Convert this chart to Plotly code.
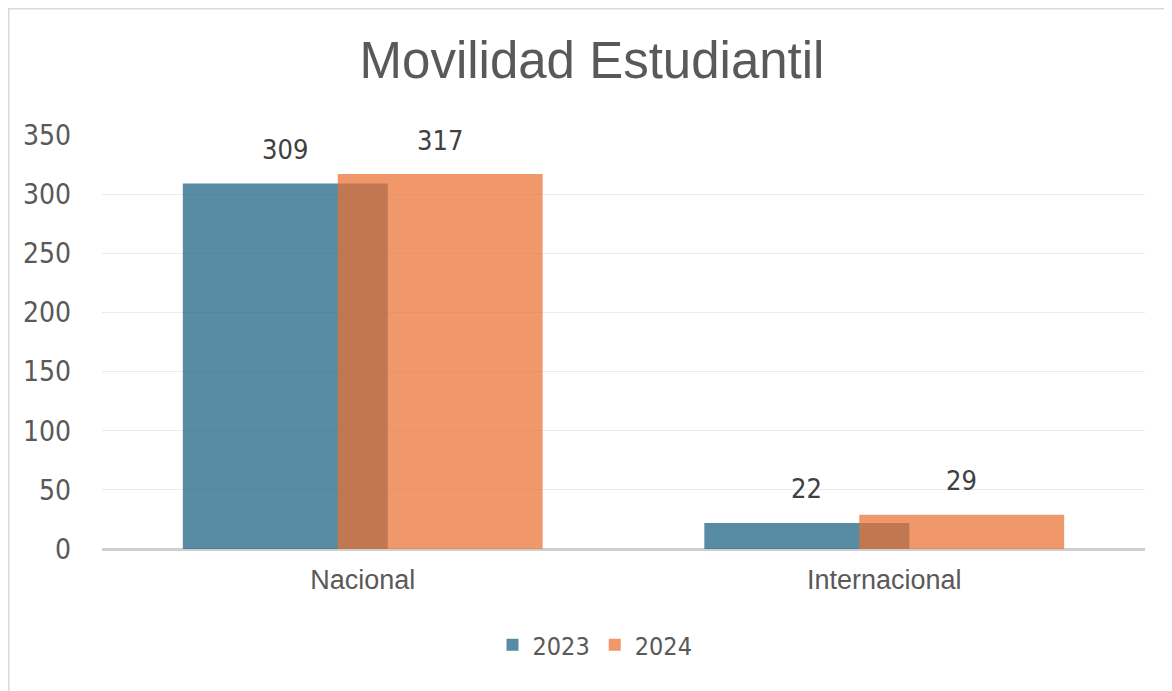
import plotly.graph_objects as go

# ---- data ----
categories = ["Nacional", "Internacional"]
series_names = ["2023", "2024"]
values_2023 = [309, 22]
values_2024 = [317, 29]
y_ticks = [0, 50, 100, 150, 200, 250, 300, 350]

# ---- style ----
# the page body adds an 8px offset, so the figure is 8px smaller than the window
W, H = 1164, 683
ML, MR, MT, MB = 94, 27, 127, 142
PW, PH = W - ML - MR, H - MT - MB
BAR_W = 0.393
OFFSETS = [-0.345, -0.048]
COLORS = ["rgba(24,94,129,0.72)", "rgba(234,112,49,0.72)"]
NARROW = "Liberation Sans Narrow, Arial Narrow, DejaVu Sans Condensed, sans-serif"
REG = "Liberation Sans, Arial, sans-serif"
GREY = "#595959"

fig = go.Figure()
for name, vals, off, col in zip(series_names, [values_2023, values_2024], OFFSETS, COLORS):
    fig.add_trace(go.Bar(
        x=categories, y=vals, name=name,
        width=BAR_W, offset=off,
        marker=dict(color=col, line=dict(width=0)),
        hoverinfo="x+y+name",
    ))

annotations = []
for vals, off in zip([values_2023, values_2024], OFFSETS):
    for i, v in enumerate(vals):
        annotations.append(dict(
            x=i + off + BAR_W / 2, y=v, xref="x", yref="y",
            text=str(v), showarrow=False, yanchor="middle", yshift=34,
            font=dict(family=NARROW, size=27, color="#404040"),
        ))


def px_x(px):
    """figure pixel -> paper x"""
    return (px - ML) / PW


def px_y(py):
    """figure pixel -> paper y"""
    return (MT + PH - py) / PH


fig.update_layout(
    width=W, height=H,
    margin=dict(l=ML, r=MR, t=MT, b=MB),
    paper_bgcolor="white", plot_bgcolor="white",
    barmode="overlay",
    title=dict(text="Movilidad Estudiantil", x=584 / W, xanchor="center",
               y=1 - 52 / H, yanchor="middle", yref="container",
               font=dict(family=REG, size=51, color=GREY)),
    xaxis=dict(type="category", showgrid=False, showline=False, zeroline=False,
               ticks="", tickfont=dict(family=REG, size=27, color=GREY),
               ticklabelstandoff=12, range=[-0.5, 1.5]),
    yaxis=dict(range=[0, 350], tickvals=y_ticks, showgrid=True, gridcolor="#EBEBEB",
               gridwidth=1, zeroline=True, zerolinecolor="#CFCFCF", zerolinewidth=3,
               showline=False, ticks="", ticklabelstandoff=30,
               tickfont=dict(family=NARROW, size=28, color=GREY)),
    legend=dict(orientation="h", x=px_x(587), xanchor="center",
                y=px_y(637), yanchor="middle",
                font=dict(family=NARROW, size=25, color=GREY),
                itemsizing="constant"),
    annotations=annotations,
    shapes=[dict(type="rect", xref="paper", yref="paper",
                 x0=px_x(0.5), x1=px_x(W + 20),
                 y0=px_y(0.5), y1=px_y(H + 20),
                 line=dict(color="#D9D9D9", width=2), fillcolor="rgba(0,0,0,0)",
                 layer="below")],
    showlegend=True,
)

fig.write_html("out.html")
